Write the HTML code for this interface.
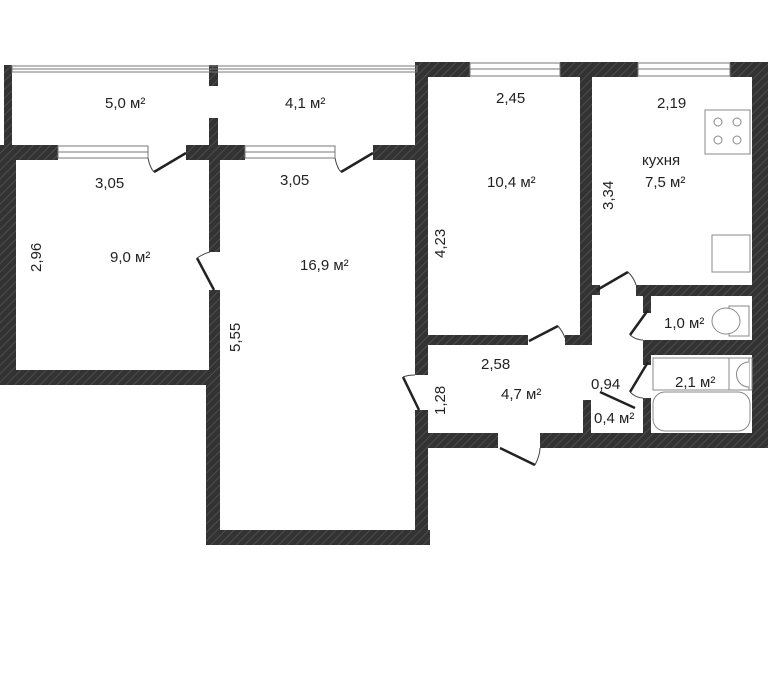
<!DOCTYPE html>
<html><head><meta charset="utf-8"><style>
body{margin:0;background:#fff}
svg{display:block}
text{font-family:"Liberation Sans",sans-serif;font-size:15px;fill:#222}
</style></head><body>
<svg width="768" height="688" viewBox="0 0 768 688" xmlns="http://www.w3.org/2000/svg">
<defs>
<pattern id="h" width="6" height="6" patternUnits="userSpaceOnUse" patternTransform="rotate(45)">
<rect width="6" height="6" fill="#333"/><line x1="0" y1="0" x2="0" y2="6" stroke="#555" stroke-width="1.5"/>
</pattern>
</defs>
<g fill="url(#h)">
<!-- balcony -->
<rect x="4" y="65" width="8" height="90"/>
<rect x="209" y="65" width="9" height="21"/>
<rect x="209" y="118" width="9" height="42"/>
<!-- bedroom top wall -->
<rect x="0" y="145" width="58" height="15"/>
<rect x="186" y="145" width="59" height="15"/>
<rect x="373" y="145" width="55" height="15"/>
<!-- bedroom left / bottom -->
<rect x="0" y="153" width="16" height="232"/>
<rect x="0" y="370" width="220" height="15"/>
<rect x="209" y="145" width="11" height="107"/>
<rect x="209" y="290" width="11" height="95"/>
<!-- living room -->
<rect x="206" y="370" width="14" height="175"/>
<rect x="206" y="530" width="224" height="15"/>
<rect x="415" y="62" width="13" height="313"/>
<rect x="415" y="410" width="13" height="135"/>
<!-- top right block -->
<rect x="415" y="62" width="55" height="15"/>
<rect x="560" y="62" width="78" height="15"/>
<rect x="730" y="62" width="38" height="15"/>
<rect x="752" y="62" width="16" height="386"/>
<rect x="580" y="77" width="12" height="268"/>
<rect x="428" y="335" width="100" height="10"/>
<rect x="565" y="335" width="27" height="10"/>
<rect x="592" y="285" width="8" height="10"/>
<rect x="636" y="285" width="132" height="11"/>
<rect x="643" y="285" width="8" height="28"/>
<rect x="643" y="340" width="125" height="15"/>
<rect x="643" y="340" width="8" height="25"/>
<rect x="643" y="398" width="8" height="35"/>
<rect x="583" y="400" width="8" height="33"/>
<rect x="428" y="433" width="70" height="15"/>
<rect x="540" y="433" width="228" height="15"/>
</g>
<!-- balcony glazing -->
<g stroke="#777" stroke-width="1" fill="none">
<rect x="12" y="66" width="405" height="6"/>
<line x1="12" y1="69" x2="417" y2="69"/>
<rect x="58" y="146" width="90" height="12"/><line x1="58" y1="152" x2="148" y2="152"/>
<rect x="245" y="146" width="90" height="12"/><line x1="245" y1="152" x2="335" y2="152"/>
<rect x="470" y="63" width="90" height="13"/><line x1="470" y1="69" x2="560" y2="69"/>
<rect x="638" y="63" width="92" height="13"/><line x1="638" y1="69" x2="730" y2="69"/>
</g>
<!-- doors -->
<g stroke="#222" stroke-width="2.5" fill="none">
<line x1="154" y1="172" x2="186" y2="153"/>
<line x1="341" y1="172" x2="373" y2="153"/>
<line x1="197" y1="258" x2="214" y2="290"/>
<line x1="403" y1="377" x2="419" y2="410"/>
<line x1="529" y1="341" x2="558" y2="326"/>
<line x1="597" y1="290" x2="628" y2="272"/>
<line x1="630" y1="335" x2="648" y2="310"/>
<line x1="630" y1="392" x2="648" y2="362"/>
<line x1="600" y1="392" x2="635" y2="408"/>
<line x1="500" y1="448" x2="535" y2="465"/>
</g>
<g stroke="#444" stroke-width="1" fill="none">
<path d="M148 158 Q150 168 154 172"/><path d="M335 158 Q337 168 341 172"/>
<path d="M197 258 Q205 253 210 252"/><path d="M403 377 Q408 375 415 375"/>
<path d="M558 326 Q563 332 565 338"/><path d="M628 272 Q634 278 636 285"/>
<path d="M630 335 Q636 340 643 340"/><path d="M630 392 Q636 398 643 398"/>
<path d="M535 465 Q540 455 540 448"/>
</g>
<!-- fixtures -->
<g stroke="#888" fill="#fff" stroke-width="1">
<rect x="705" y="110" width="45" height="44"/>
<circle cx="718" cy="122" r="4"/><circle cx="737" cy="122" r="4"/>
<circle cx="718" cy="140" r="4"/><circle cx="737" cy="140" r="4"/>
<rect x="712" y="235" width="38" height="37"/>
<rect x="729" y="306" width="20" height="30"/>
<ellipse cx="726" cy="321" rx="14" ry="13"/>
<rect x="729" y="358" width="20" height="32"/>
<path d="M749 362 a12 12 0 0 0 0 25"/>
<rect x="653" y="392" width="97" height="39" rx="12"/>
<rect x="653" y="358" width="99" height="32" fill="none"/>
</g>
<text x="105" y="108">5,0 м²</text>
<text x="285" y="108">4,1 м²</text>
<text x="95" y="188">3,05</text>
<text x="280" y="185">3,05</text>
<text x="110" y="262">9,0 м²</text>
<text x="300" y="270">16,9 м²</text>
<text transform="translate(41,272) rotate(-90)">2,96</text>
<text transform="translate(240,352) rotate(-90)">5,55</text>
<text x="496" y="103">2,45</text>
<text x="657" y="108">2,19</text>
<text x="487" y="187">10,4 м²</text>
<text x="642" y="165">кухня</text>
<text x="645" y="187">7,5 м²</text>
<text transform="translate(445,258) rotate(-90)">4,23</text>
<text transform="translate(613,210) rotate(-90)">3,34</text>
<text x="664" y="328">1,0 м²</text>
<text x="675" y="387">2,1 м²</text>
<text x="481" y="369">2,58</text>
<text x="501" y="399">4,7 м²</text>
<text transform="translate(445,415) rotate(-90)">1,28</text>
<text x="591" y="389">0,94</text>
<text x="594" y="423">0,4 м²</text>
</svg>
</body></html>
